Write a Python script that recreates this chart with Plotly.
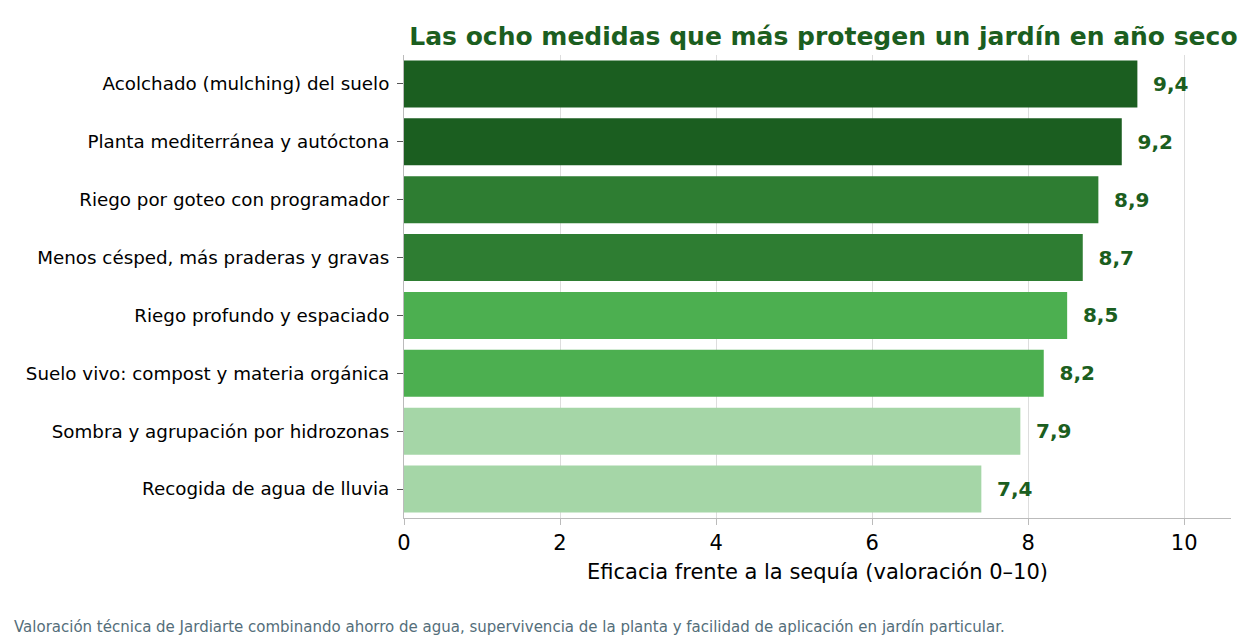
import plotly.graph_objects as go

medidas = [
    "Acolchado (mulching) del suelo",
    "Planta mediterránea y autóctona",
    "Riego por goteo con programador",
    "Menos césped, más praderas y gravas",
    "Riego profundo y espaciado",
    "Suelo vivo: compost y materia orgánica",
    "Sombra y agrupación por hidrozonas",
    "Recogida de agua de lluvia",
]
eficacia = [9.4, 9.2, 8.9, 8.7, 8.5, 8.2, 7.9, 7.4]
colores = ["#1b5e20", "#1b5e20", "#2e7d32", "#2e7d32",
           "#4caf50", "#4caf50", "#a5d6a7", "#a5d6a7"]
etiquetas = [f"{v:.1f}".replace(".", ",") for v in eficacia]

fig = go.Figure()
fig.add_trace(go.Bar(
    x=eficacia, y=medidas, orientation="h",
    marker=dict(color=colores, line=dict(width=0)),
    text=["  <b>" + t + "</b>" for t in etiquetas], textposition="outside",
    textfont=dict(size=20, color="#1b5e20"), cliponaxis=False,
))

# page adds an 8px body margin, so the figure is 8px smaller each way
fig.update_layout(
    width=1242, height=629,
    margin=dict(l=396, r=19, t=47, b=119),
    plot_bgcolor="white", paper_bgcolor="white",
    font=dict(family="DejaVu Sans", color="black"),
    bargap=0.19, showlegend=False,
    title=dict(text="<b>Las ocho medidas que más protegen un jardín en año seco</b>",
               x=0.99, xanchor="right", y=0.955, yanchor="middle",
               font=dict(size=25, color="#1b5e20")),
    xaxis=dict(range=[0, 10.6], dtick=2, showgrid=True, gridcolor="#dddddd",
               zeroline=False, showline=True, linecolor="#bbbbbb",
               ticks="outside", ticklen=6, tickcolor="#bbbbbb",
               tickfont=dict(size=21),
               title=dict(text="Eficacia frente a la sequía (valoración 0–10)",
                          font=dict(size=21), standoff=10)),
    yaxis=dict(autorange="reversed", showline=True, linecolor="#bbbbbb",
               ticks="outside", ticklen=6, tickcolor="#555555",
               ticklabelstandoff=4, tickfont=dict(size=18.3)),
)
fig.add_annotation(
    text="Valoración técnica de Jardiarte combinando ahorro de agua, supervivencia de la planta y facilidad de aplicación en jardín particular.",
    xref="paper", yref="paper", x=-(396 - 4) / 827, y=-0.235,
    xanchor="left", yanchor="middle", showarrow=False,
    font=dict(size=15, color="#546e7a"),
)

fig.write_html("out.html")
